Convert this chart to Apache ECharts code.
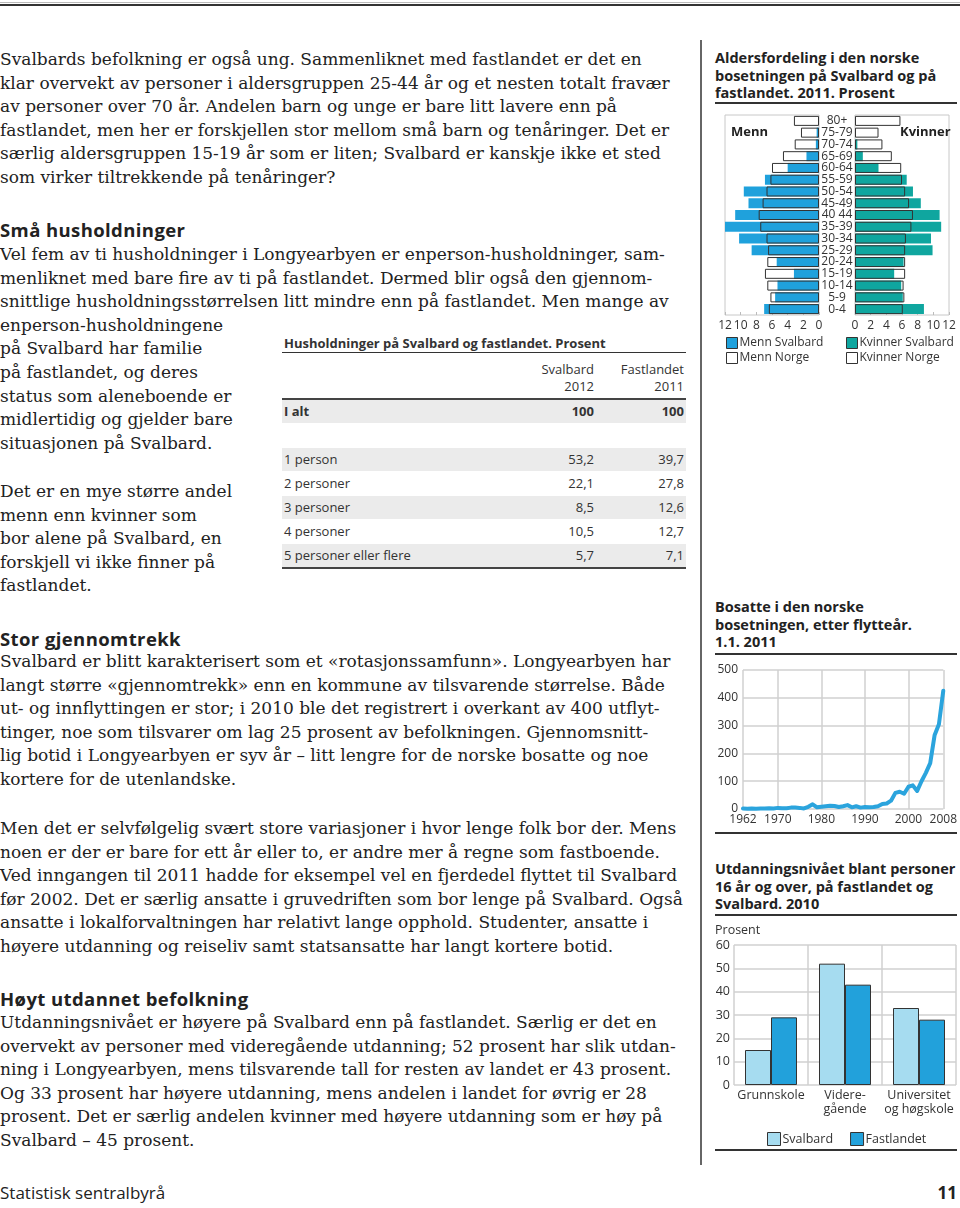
<!DOCTYPE html>
<html><head><meta charset="utf-8">
<script src="https://cdn.jsdelivr.net/npm/echarts@6/dist/echarts.min.js"></script>
<style>
html,body{margin:0;padding:0;background:#fff;}
body{width:960px;height:1208px;position:relative;overflow:hidden;color:#222;}
.abs{position:absolute;}
.p{position:absolute;left:0;font-family:"DejaVu Serif",serif;font-size:17px;line-height:23.6px;white-space:nowrap;color:#222;}
.h{position:absolute;left:0;font-family:"Open Sans",sans-serif;font-weight:bold;font-size:18.5px;letter-spacing:0.4px;line-height:23.6px;white-space:nowrap;color:#222;}
.ct{position:absolute;left:715px;font-family:"Open Sans",sans-serif;font-weight:bold;font-size:14.5px;line-height:17.5px;white-space:nowrap;color:#222;}
.hl{position:absolute;left:715px;width:242px;height:1.5px;background:#333;}
.tbl{position:absolute;font-family:"Open Sans",sans-serif;font-size:13px;color:#333;white-space:nowrap;}
.row{position:absolute;left:282px;width:404px;height:23px;}
.row span{position:absolute;top:0;line-height:23px;}
.row .c1{left:2px;} .row .c2{right:92px;} .row .c3{right:2px;}
.g{background:#ebebeb;}
</style></head>
<body>
<div class="abs" style="left:0;top:2px;width:960px;height:1px;background:#bbb"></div>
<div class="abs" style="left:0;top:3.5px;width:960px;height:2px;background:#333"></div>
<div class="abs" style="left:700px;top:40px;width:1.5px;height:1125px;background:#666"></div>

<div class="p" style="top:48px">Svalbards befolkning er også ung. Sammenliknet med fastlandet er det en<br>klar overvekt av personer i aldersgruppen 25-44 år og et nesten totalt fravær<br>av personer over 70 år. Andelen barn og unge er bare litt lavere enn på<br>fastlandet, men her er forskjellen stor mellom små barn og tenåringer. Det er<br>særlig aldersgruppen 15-19 år som er liten; Svalbard er kanskje ikke et sted<br>som virker tiltrekkende på tenåringer?</div>
<div class="h" style="top:218px">Små husholdninger</div>
<div class="p" style="top:243px">Vel fem av ti husholdninger i Longyearbyen er enperson-husholdninger, sam-<br>menliknet med bare fire av ti på fastlandet. Dermed blir også den gjennom-<br>snittlige husholdningsstørrelsen litt mindre enn på fastlandet. Men mange av<br>enperson-husholdningene<br>på Svalbard har familie<br>på fastlandet, og deres<br>status som aleneboende er<br>midlertidig og gjelder bare<br>situasjonen på Svalbard.</div>
<div class="p" style="top:480px">Det er en mye større andel<br>menn enn kvinner som<br>bor alene på Svalbard, en<br>forskjell vi ikke finner på<br>fastlandet.</div>
<div class="h" style="top:627px">Stor gjennomtrekk</div>
<div class="p" style="top:650px">Svalbard er blitt karakterisert som et «rotasjonssamfunn». Longyearbyen har<br>langt større «gjennomtrekk» enn en kommune av tilsvarende størrelse. Både<br>ut- og innflyttingen er stor; i 2010 ble det registrert i overkant av 400 utflyt-<br>tinger, noe som tilsvarer om lag 25 prosent av befolkningen. Gjennomsnitt-<br>lig botid i Longyearbyen er syv år – litt lengre for de norske bosatte og noe<br>kortere for de utenlandske.</div>
<div class="p" style="top:817px">Men det er selvfølgelig svært store variasjoner i hvor lenge folk bor der. Mens<br>noen er der er bare for ett år eller to, er andre mer å regne som fastboende.<br>Ved inngangen til 2011 hadde for eksempel vel en fjerdedel flyttet til Svalbard<br>før 2002. Det er særlig ansatte i gruvedriften som bor lenge på Svalbard. Også<br>ansatte i lokalforvaltningen har relativt lange opphold. Studenter, ansatte i<br>høyere utdanning og reiseliv samt statsansatte har langt kortere botid.</div>
<div class="h" style="top:987px">Høyt utdannet befolkning</div>
<div class="p" style="top:1011px">Utdanningsnivået er høyere på Svalbard enn på fastlandet. Særlig er det en<br>overvekt av personer med videregående utdanning; 52 prosent har slik utdan-<br>ning i Longyearbyen, mens tilsvarende tall for resten av landet er 43 prosent.<br>Og 33 prosent har høyere utdanning, mens andelen i landet for øvrig er 28<br>prosent. Det er særlig andelen kvinner med høyere utdanning som er høy på<br>Svalbard – 45 prosent.</div>

<!-- table -->
<div class="tbl" style="left:284px;top:334px;font-weight:bold;font-size:13px;">Husholdninger på Svalbard og fastlandet. Prosent</div>
<div class="abs" style="left:282px;top:352px;width:404px;height:1px;background:#333"></div>
<div class="tbl" style="left:282px;top:361px;width:404px;line-height:17px;">
  <div style="position:absolute;right:92px;text-align:right;">Svalbard<br>2012</div>
  <div style="position:absolute;right:2px;text-align:right;">Fastlandet<br>2011</div>
</div>
<div class="abs" style="left:282px;top:398px;width:404px;height:2px;background:#444"></div>
<div id="tablerows"></div>
<div class="abs" style="left:282px;top:567px;width:404px;height:2px;background:#444"></div>

<!-- right column -->
<div class="ct" style="top:49px">Aldersfordeling i den norske<br>bosetningen på Svalbard og på<br>fastlandet. 2011. Prosent</div>
<div class="hl" style="top:102px"></div>
<div id="pyr" class="abs" style="left:705px;top:105px;width:255px;height:268px"></div>

<div class="ct" style="top:598px">Bosatte i den norske<br>bosetningen, etter flytteår.<br>1.1. 2011</div>
<div class="hl" style="top:653px"></div>
<div id="line" class="abs" style="left:705px;top:655px;width:255px;height:176px"></div>
<div class="hl" style="top:832px"></div>

<div class="ct" style="top:860px">Utdanningsnivået blant personer<br>16 år og over, på fastlandet og<br>Svalbard. 2010</div>
<div class="hl" style="top:914px"></div>
<div id="bar" class="abs" style="left:705px;top:916px;width:255px;height:232px"></div>
<div class="hl" style="top:1149px"></div>

<div class="abs" style="left:0;top:1181px;font-family:'Open Sans',sans-serif;font-size:17px;color:#222;">Statistisk sentralbyrå</div>
<div class="abs" style="right:3px;top:1181px;font-family:'Open Sans',sans-serif;font-size:17px;font-weight:bold;color:#222">11</div>

<script>
// ---------- Table data ----------
const tableRows = ['I alt', '1 person', '2 personer', '3 personer', '4 personer', '5 personer eller flere'];
const tableSvalbard = ['100', '53,2', '22,1', '8,5', '10,5', '5,7'];
const tableFastland = ['100', '39,7', '27,8', '12,6', '12,7', '7,1'];

// ---------- Population pyramid ----------
const ageGroups = ['0-4','5-9','10-14','15-19','20-24','25-29','30-34','35-39','40 44','45-49','50-54','55-59','60-64','65-69','70-74','75-79','80+'];
const menSvalbard   = [7.0, 5.6, 5.3, 3.2, 5.4, 8.6, 10.2, 12.0, 10.7, 9.0, 9.6, 6.9, 4.0, 1.6, 0.4, 0.3, 0];
const menNorge      = [6.4, 6.2, 6.6, 6.9, 6.6, 6.5, 6.7, 7.5, 7.7, 7.2, 6.7, 6.2, 6.0, 4.6, 3.1, 2.3, 3.2];
const womenSvalbard = [8.8, 6.1, 5.9, 5.0, 6.2, 9.9, 9.7, 11.0, 10.8, 8.4, 7.4, 6.6, 3.0, 1.0, 0.3, 0, 0];
const womenNorge    = [6.1, 6.3, 6.2, 6.4, 6.4, 6.4, 6.5, 7.2, 7.4, 6.9, 6.4, 6.0, 5.9, 4.7, 3.5, 3.0, 5.8];

// ---------- Settlers by year of moving ----------
const moveYears = ['1962','1963','1964','1965','1966','1967','1968','1969','1970','1971','1972','1973','1974','1975','1976','1977','1978','1979','1980','1981','1982','1983','1984','1985','1986','1987','1988','1989','1990','1991','1992','1993','1994','1995','1996','1997','1998','1999','2000','2001','2002','2003','2004','2005','2006','2007','2008'];
const settlers  = [2,1,2,1,2,2,3,2,4,3,3,5,5,4,2,8,17,6,8,10,12,11,7,10,14,6,10,5,7,6,7,10,18,20,30,58,62,55,80,85,65,100,130,165,265,305,425];
const moveYearTicks = ['1962','1970','1980','1990','2000','2008'];

// ---------- Education ----------
const eduLevels = ['Grunnskole', 'Videre-\ngående', 'Universitet\nog høgskole'];
const eduSvalbard = [15, 52, 33];
const eduFastland = [29, 43, 28];

// build table rows
(function(){
  const tops = [400, 448, 472, 496, 520, 544];
  let html = '';
  tableRows.forEach((r, i) => {
    const bold = i === 0 ? 'font-weight:bold;' : '';
    const cls = (i === 0 || i % 2 === 1) ? 'row tbl g' : 'row tbl';
    html += `<div class="${cls}" style="top:${tops[i]}px;${bold}"><span class="c1">${r}</span><span class="c2">${tableSvalbard[i]}</span><span class="c3">${tableFastland[i]}</span></div>`;
  });
  document.getElementById('tablerows').innerHTML = html;
})();

const FONT = '"Open Sans", sans-serif';
const TXT = '#333';
const MEN_C = '#1fa1dc', WOMEN_C = '#0fa69f';

// Pyramid
const pyr = echarts.init(document.getElementById('pyr'), null, {renderer: 'canvas'});
const gridBox = {show: true, borderColor: '#c8c8c8', borderWidth: 1, backgroundColor: 'transparent'};
const xBase = {
  type: 'value', min: 0, max: 12, interval: 2,
  splitLine: {show: false}, axisLine: {show: false},
  axisTick: {show: true, inside: true, length: 3, lineStyle: {color: '#bbb'}},
  axisLabel: {fontFamily: FONT, fontSize: 12, color: TXT, margin: 5}
};
const normOutline = {color: 'rgba(0,0,0,0)', borderColor: '#333', borderWidth: 1};
const legendBase = {orient: 'vertical', icon: 'rect', itemWidth: 11, itemHeight: 11, itemGap: 3,
  textStyle: {fontFamily: FONT, fontSize: 12, color: TXT, padding: [0,0,0,-3]}};
pyr.setOption({
  animation: false,
  textStyle: {fontFamily: FONT},
  grid: [
    Object.assign({left: 20, top: 10, width: 94, height: 200}, gridBox),
    Object.assign({left: 150, top: 10, width: 94, height: 200}, gridBox)
  ],
  xAxis: [
    Object.assign({gridIndex: 0, inverse: true}, xBase),
    Object.assign({gridIndex: 1}, xBase)
  ],
  yAxis: [
    {gridIndex: 0, type: 'category', data: ageGroups, position: 'right',
     axisLine: {show: false}, axisTick: {show: false},
     axisLabel: {interval: 0, margin: 18, align: 'center', fontFamily: FONT, fontSize: 12, color: TXT}},
    {gridIndex: 1, type: 'category', data: ageGroups,
     axisLine: {show: false}, axisTick: {show: false}, axisLabel: {show: false}}
  ],
  legend: [
    Object.assign({left: 16, top: 227,
     data: [{name: 'Menn Svalbard', itemStyle: {color: MEN_C, borderColor: '#333', borderWidth: 1}},
            {name: 'Menn Norge', itemStyle: {color: '#fff', borderColor: '#333', borderWidth: 1}}]}, legendBase),
    Object.assign({left: 136, top: 227,
     data: [{name: 'Kvinner Svalbard', itemStyle: {color: WOMEN_C, borderColor: '#333', borderWidth: 1}},
            {name: 'Kvinner Norge', itemStyle: {color: '#fff', borderColor: '#333', borderWidth: 1}}]}, legendBase)
  ],
  graphic: [
    {type: 'text', left: 26, top: 21, style: {text: 'Menn', font: 'bold 13px "Open Sans", sans-serif', fill: '#222'}},
    {type: 'text', left: 195, top: 21, style: {text: 'Kvinner', font: 'bold 13px "Open Sans", sans-serif', fill: '#222'}}
  ],
  series: [
    {name: 'Menn Svalbard', type: 'bar', xAxisIndex: 0, yAxisIndex: 0, data: menSvalbard,
     barWidth: 10, itemStyle: {color: MEN_C}, z: 2},
    {name: 'Menn Norge', type: 'bar', xAxisIndex: 0, yAxisIndex: 0, data: menNorge,
     barWidth: 10, barGap: '-100%', itemStyle: normOutline, z: 3},
    {name: 'Kvinner Svalbard', type: 'bar', xAxisIndex: 1, yAxisIndex: 1, data: womenSvalbard,
     barWidth: 10, itemStyle: {color: WOMEN_C}, z: 2},
    {name: 'Kvinner Norge', type: 'bar', xAxisIndex: 1, yAxisIndex: 1, data: womenNorge,
     barWidth: 10, barGap: '-100%', itemStyle: normOutline, z: 3}
  ]
});

// Line chart
const tickSet = new Set(moveYearTicks);
const line = echarts.init(document.getElementById('line'));
line.setOption({
  animation: false,
  grid: {left: 38, top: 15, width: 201, height: 139},
  xAxis: {
    type: 'category', data: moveYears, boundaryGap: false,
    axisLine: {show: false}, axisTick: {show: false},
    axisLabel: {interval: (i, v) => tickSet.has(v), fontFamily: FONT, fontSize: 12, color: TXT, margin: 5},
    splitLine: {show: true, interval: (i, v) => tickSet.has(v), lineStyle: {color: '#d0d0d0', width: 1.5}}
  },
  yAxis: {
    type: 'value', min: 0, max: 500, interval: 100,
    axisLine: {show: false}, axisTick: {show: false},
    axisLabel: {fontFamily: FONT, fontSize: 12, color: TXT, margin: 5},
    splitLine: {lineStyle: {color: '#d0d0d0', width: 1.5}}
  },
  series: [{type: 'line', data: settlers, showSymbol: false, symbol: 'none',
    lineStyle: {color: '#2ba4dd', width: 4, join: 'round', cap: 'round'}}]
});

// Bar chart
const bar = echarts.init(document.getElementById('bar'));
bar.setOption({
  animation: false,
  grid: {left: 29, top: 29, width: 222, height: 140},
  graphic: [{type: 'text', left: 10, top: 8, style: {text: 'Prosent', font: '12.5px "Open Sans", sans-serif', fill: TXT}}],
  legend: {left: 57, top: 211, icon: 'rect', itemWidth: 13, itemHeight: 13, itemGap: 17,
    textStyle: {fontFamily: FONT, fontSize: 12.5, color: TXT, padding: [0,0,0,-3]},
    data: [{name: 'Svalbard', itemStyle: {color: '#a6dcf0', borderColor: '#333', borderWidth: 1}},
           {name: 'Fastlandet', itemStyle: {color: '#22a1db', borderColor: '#333', borderWidth: 1}}]},
  xAxis: {
    type: 'category', data: eduLevels,
    axisLine: {show: false}, axisTick: {show: false},
    axisLabel: {interval: 0, fontFamily: FONT, fontSize: 12.5, color: TXT, margin: 3, lineHeight: 14},
    splitLine: {show: true, interval: 0, lineStyle: {color: '#d0d0d0', width: 1.5}}
  },
  yAxis: {
    type: 'value', min: 0, max: 60, interval: 10,
    axisLine: {show: false}, axisTick: {show: false},
    axisLabel: {fontFamily: FONT, fontSize: 12.5, color: TXT, margin: 4},
    splitLine: {lineStyle: {color: '#d0d0d0', width: 1.5}}
  },
  series: [
    {name: 'Svalbard', type: 'bar', data: eduSvalbard, barWidth: 26, barGap: '0%',
     itemStyle: {color: '#a6dcf0', borderColor: '#333', borderWidth: 1}},
    {name: 'Fastlandet', type: 'bar', data: eduFastland, barWidth: 26,
     itemStyle: {color: '#22a1db', borderColor: '#333', borderWidth: 1}}
  ]
});
</script>
</body></html>
